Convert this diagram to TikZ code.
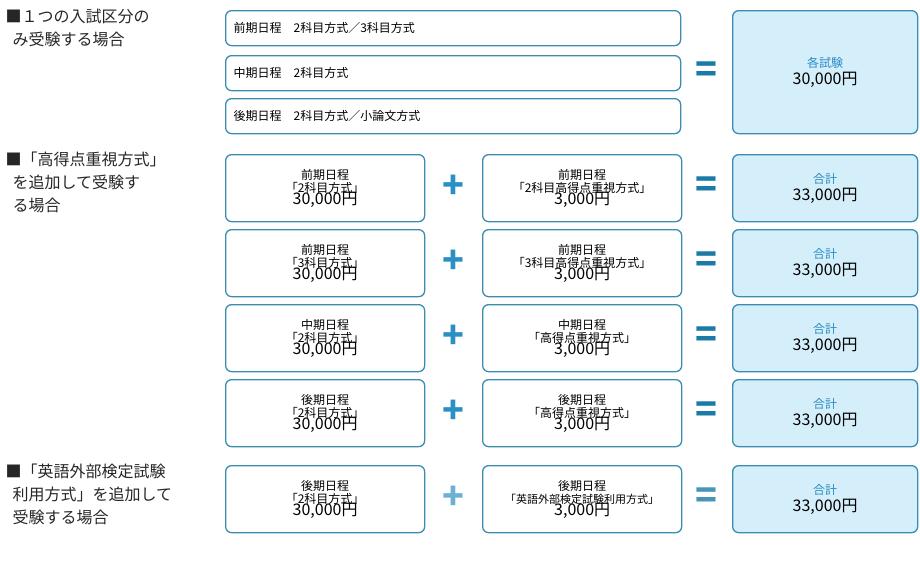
\documentclass[tikz,border=0pt]{standalone}
\usepackage{fontspec}
\setmainfont{Noto Sans CJK JP}
\usepackage{xcolor}
\definecolor{frame}{HTML}{3A8DB0}
\definecolor{pale}{HTML}{D4EEFA}
\definecolor{sumblue}{HTML}{2A8CC6}
\definecolor{plusblue}{HTML}{2A90C4}
\definecolor{eqblue}{HTML}{1A7BA6}
\tikzset{
  box/.style={draw=frame, line width=1.3pt, rounded corners=6pt, fill=white, inner sep=0pt, align=center, font=\fontsize{12}{15}\selectfont},
  leftbox/.style={box, anchor=north west, minimum height=35pt, align=left, text width=455pt},
  totalbox/.style={box, fill=pale, anchor=north west, minimum width=185pt},
  pairbox/.style={box, anchor=north west, minimum width=199pt, minimum height=67pt},
  opsign/.style={font=\bfseries\fontsize{36}{36}\selectfont, inner sep=0pt},
  heading/.style={anchor=north west, align=left, font=\fontsize{16}{23}\selectfont, text=black!85}
}
\begin{document}
\begin{tikzpicture}[x=1pt, y=-1pt]
    \useasboundingbox (0,0) rectangle (920,573);

    % single exam
    \node[heading] (h1) at (2,6) {■１つの入試区分の\\\ \ み受験する場合};
    \node[leftbox] (a1) at (225,10) {\hspace{8pt}前期日程\quad 2科目方式／3科目方式};
    \node[leftbox] (a2) at (225,55) {\hspace{8pt}中期日程\quad 2科目方式};
    \node[leftbox] (a3) at (225,98) {\hspace{8pt}後期日程\quad 2科目方式／小論文方式};
    \node[totalbox, minimum height=123pt] (t1) at (732,10) {\textcolor{sumblue}{各試験}\\[2pt]{\fontsize{16}{18}\selectfont 30,000円}};
    \node[text=eqblue, opsign] (eq1) at (706,72) {=};

    % high score option
    \node[heading] (h2) at (2,148) {■「高得点重視方式」\\\ \ を追加して受験す\\\ \ る場合};
    \foreach \y/\term/\kind/\extra/\n in {
        154/前期日程/「2科目方式」/「2科目高得点重視方式」/1,
        229/前期日程/「3科目方式」/「3科目高得点重視方式」/2,
        304/中期日程/「2科目方式」/「高得点重視方式」/3,
        379/後期日程/「2科目方式」/「高得点重視方式」/4}{
        \node[pairbox] (b\n) at (225,\y) {\term\\[-2pt]\kind\\[-3pt]{\fontsize{16}{18}\selectfont 30,000円}};
        \node[pairbox] (c\n) at (482,\y) {\term\\[-2pt]\extra\\[-3pt]{\fontsize{16}{18}\selectfont 3,000円}};
        \node[totalbox, minimum height=67pt] (s\n) at (732,\y) {\textcolor{sumblue}{合計}\\[2pt]{\fontsize{16}{18}\selectfont 33,000円}};
        \node[text=plusblue, opsign] (p\n) at (453,\y+33) {+};
        \node[text=eqblue, opsign] (e\n) at (706,\y+33) {=};
    }

    % external English test option
    \node[heading] (h3) at (2,460) {■「英語外部検定試験\\\ \ 利用方式」を追加して\\\ \ 受験する場合};
    \node[pairbox] (b5) at (225,465) {後期日程\\[-2pt]「2科目方式」\\[-3pt]{\fontsize{16}{18}\selectfont 30,000円}};
    \node[pairbox] (c5) at (482,465) {後期日程\\[-2pt]{\fontsize{11}{14}\selectfont「英語外部検定試験利用方式」}\\[-3pt]{\fontsize{16}{18}\selectfont 3,000円}};
    \node[totalbox, minimum height=67pt] (s5) at (732,465) {\textcolor{sumblue}{合計}\\[2pt]{\fontsize{16}{18}\selectfont 33,000円}};
    \node[text=plusblue!70, opsign] (p5) at (453,498) {+};
    \node[text=eqblue!80, opsign] (e5) at (706,498) {=};
\end{tikzpicture}
\end{document}
